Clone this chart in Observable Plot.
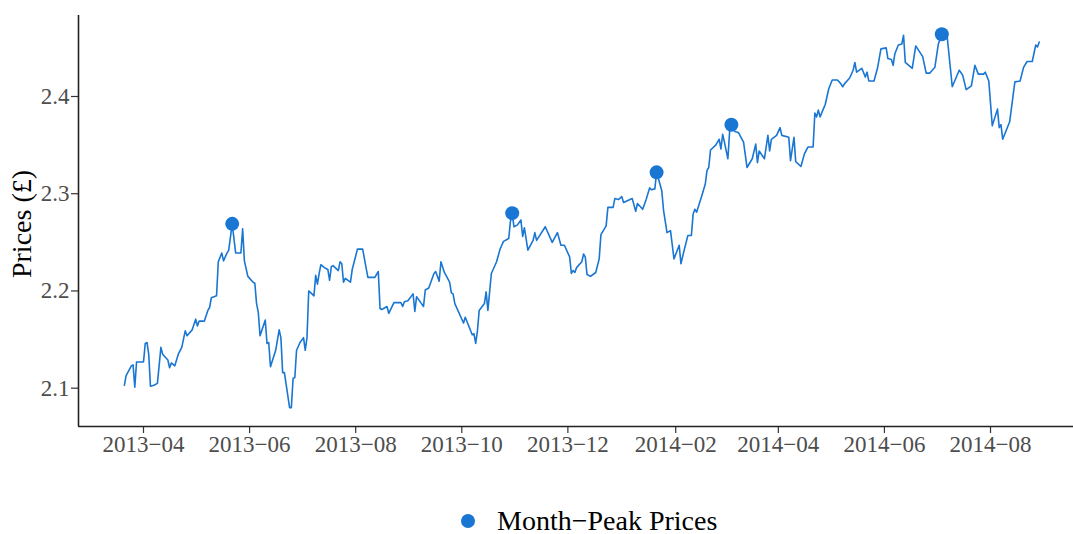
<!DOCTYPE html>
<html>
<head>
<meta charset="utf-8">
<script src="https://cdn.jsdelivr.net/npm/d3@7"></script>
<script src="https://cdn.jsdelivr.net/npm/@observablehq/plot@0.6"></script>
<style>
  html, body { margin: 0; padding: 0; background: #fff; overflow: hidden; }
  body { font-family: "Liberation Serif", "Times New Roman", serif; width: 1073px; }
  #chart svg { display: block; }
  #legend { position: relative; height: 64px; }
  #legend .dot { position: absolute; left: 461px; top: 44px; width: 14px; height: 14px; border-radius: 50%; background: #1976D2; }
  #legend .lab { position: absolute; left: 497px; top: 37px; font-size: 28px; line-height: 28px; color: #000; white-space: nowrap; }
</style>
</head>
<body>
<div id="chart"></div>
<div id="legend"><span class="dot"></span><span class="lab" id="legendLabel"></span></div>
<script>
const dates = [
"2013-03-21","2013-03-22","2013-03-25","2013-03-26","2013-03-27","2013-03-28","2013-04-01","2013-04-02","2013-04-03","2013-04-04",
"2013-04-05","2013-04-07","2013-04-09","2013-04-11","2013-04-12","2013-04-15","2013-04-16","2013-04-17","2013-04-19","2013-04-21",
"2013-04-23","2013-04-25","2013-04-26","2013-04-29","2013-05-01","2013-05-02","2013-05-03","2013-05-06","2013-05-08","2013-05-09",
"2013-05-10","2013-05-13","2013-05-14","2013-05-16","2013-05-17","2013-05-19","2013-05-20","2013-05-22","2013-05-24","2013-05-27",
"2013-05-28","2013-05-29","2013-05-31","2013-06-03","2013-06-04","2013-06-05","2013-06-06","2013-06-07","2013-06-10","2013-06-11",
"2013-06-12","2013-06-13","2013-06-16","2013-06-18","2013-06-19","2013-06-20","2013-06-21","2013-06-24","2013-06-25","2013-06-26",
"2013-06-27","2013-06-28","2013-06-30","2013-07-02","2013-07-03","2013-07-04","2013-07-05","2013-07-08","2013-07-09","2013-07-10",
"2013-07-11","2013-07-12","2013-07-14","2013-07-16","2013-07-17","2013-07-18","2013-07-19","2013-07-22","2013-07-23","2013-07-24",
"2013-07-25","2013-07-26","2013-07-29","2013-07-30","2013-07-31","2013-08-02","2013-08-05","2013-08-08","2013-08-12","2013-08-14",
"2013-08-15","2013-08-16","2013-08-19","2013-08-20","2013-08-23","2013-08-27","2013-08-28","2013-08-29","2013-08-31","2013-09-03",
"2013-09-04","2013-09-05","2013-09-07","2013-09-09","2013-09-10","2013-09-12","2013-09-15","2013-09-16","2013-09-18","2013-09-19",
"2013-09-21","2013-09-24","2013-09-25","2013-09-26","2013-09-27","2013-10-02","2013-10-03","2013-10-07","2013-10-08","2013-10-09",
"2013-10-10","2013-10-11","2013-10-14","2013-10-15","2013-10-16","2013-10-18","2013-10-21","2013-10-23","2013-10-24","2013-10-25",
"2013-10-28","2013-10-29","2013-10-30","2013-10-31","2013-11-02","2013-11-04","2013-11-05","2013-11-06","2013-11-08","2013-11-11",
"2013-11-12","2013-11-13","2013-11-18","2013-11-22","2013-11-25","2013-11-27","2013-11-29","2013-12-02","2013-12-03","2013-12-04",
"2013-12-05","2013-12-06","2013-12-09","2013-12-10","2013-12-11","2013-12-12","2013-12-14","2013-12-17","2013-12-19","2013-12-20",
"2013-12-23","2013-12-24","2013-12-27","2013-12-28","2013-12-30","2014-01-01","2014-01-02","2014-01-07","2014-01-09","2014-01-10",
"2014-01-13","2014-01-15","2014-01-17","2014-01-18","2014-01-20","2014-01-21","2014-01-24","2014-01-25","2014-01-27","2014-01-29",
"2014-01-31","2014-02-03","2014-02-04","2014-02-06","2014-02-08","2014-02-10","2014-02-11","2014-02-12","2014-02-13","2014-02-16",
"2014-02-18","2014-02-19","2014-02-20","2014-02-21","2014-02-24","2014-02-26","2014-02-27","2014-02-28","2014-03-01","2014-03-03",
"2014-03-04","2014-03-05","2014-03-07","2014-03-09","2014-03-12","2014-03-14","2014-03-17","2014-03-19","2014-03-20","2014-03-21",
"2014-03-24","2014-03-26","2014-03-27","2014-03-28","2014-03-31","2014-04-02","2014-04-03","2014-04-07","2014-04-08","2014-04-10",
"2014-04-11","2014-04-14","2014-04-16","2014-04-18","2014-04-21","2014-04-22","2014-04-23","2014-04-24","2014-04-25","2014-04-28",
"2014-04-30","2014-05-02","2014-05-05","2014-05-07","2014-05-08","2014-05-09","2014-05-12","2014-05-14","2014-05-15","2014-05-16",
"2014-05-19","2014-05-21","2014-05-22","2014-05-23","2014-05-26","2014-05-28","2014-05-30","2014-06-02","2014-06-03","2014-06-05",
"2014-06-06","2014-06-07","2014-06-09","2014-06-11","2014-06-12","2014-06-13","2014-06-17","2014-06-19","2014-06-23","2014-06-25",
"2014-06-27","2014-06-30","2014-07-02","2014-07-04","2014-07-07","2014-07-10","2014-07-14","2014-07-16","2014-07-18","2014-07-21",
"2014-07-23","2014-07-25","2014-07-28","2014-07-29","2014-07-31","2014-08-02","2014-08-05","2014-08-06","2014-08-07","2014-08-08",
"2014-08-12","2014-08-15","2014-08-18","2014-08-20","2014-08-22","2014-08-25","2014-08-27","2014-08-28","2014-08-29"
];
const prices = [
2.103,2.113,2.123,2.124,2.101,2.127,2.127,2.146,2.147,2.135,
2.102,2.103,2.105,2.142,2.135,2.129,2.121,2.126,2.123,2.135,
2.142,2.159,2.154,2.160,2.171,2.164,2.169,2.169,2.180,2.183,
2.193,2.195,2.230,2.239,2.231,2.239,2.242,2.269,2.239,2.239,
2.264,2.231,2.215,2.209,2.208,2.187,2.178,2.154,2.170,2.146,
2.147,2.122,2.139,2.160,2.152,2.116,2.116,2.080,2.080,2.110,
2.111,2.139,2.147,2.152,2.139,2.152,2.200,2.195,2.216,2.207,
2.218,2.227,2.224,2.222,2.211,2.225,2.226,2.221,2.230,2.228,
2.209,2.213,2.209,2.222,2.229,2.243,2.243,2.214,2.214,2.220,
2.182,2.181,2.184,2.177,2.188,2.188,2.184,2.189,2.190,2.197,
2.179,2.194,2.189,2.184,2.201,2.203,2.218,2.220,2.210,2.230,
2.219,2.209,2.198,2.197,2.187,2.167,2.173,2.155,2.156,2.146,
2.159,2.180,2.187,2.199,2.180,2.218,2.230,2.243,2.247,2.251,
2.254,2.272,2.280,2.266,2.268,2.273,2.256,2.265,2.242,2.252,
2.260,2.252,2.266,2.250,2.260,2.247,2.247,2.235,2.218,2.221,
2.219,2.224,2.230,2.238,2.235,2.217,2.215,2.219,2.233,2.258,
2.267,2.286,2.286,2.295,2.294,2.297,2.291,2.295,2.282,2.290,
2.284,2.294,2.306,2.304,2.305,2.322,2.303,2.283,2.260,2.262,
2.233,2.247,2.228,2.243,2.257,2.257,2.279,2.284,2.281,2.298,
2.310,2.324,2.327,2.345,2.350,2.356,2.346,2.361,2.353,2.336,
2.364,2.371,2.364,2.363,2.353,2.327,2.336,2.351,2.332,2.344,
2.336,2.360,2.344,2.356,2.360,2.368,2.360,2.358,2.334,2.358,
2.333,2.328,2.341,2.348,2.348,2.383,2.379,2.386,2.379,2.392,
2.408,2.417,2.417,2.413,2.410,2.413,2.419,2.427,2.435,2.425,
2.429,2.420,2.425,2.416,2.416,2.429,2.449,2.450,2.439,2.438,
2.432,2.444,2.453,2.454,2.463,2.435,2.429,2.452,2.441,2.424,
2.424,2.430,2.454,2.464,2.463,2.410,2.427,2.422,2.407,2.411,
2.432,2.423,2.423,2.425,2.416,2.370,2.387,2.368,2.371,2.356,
2.374,2.415,2.416,2.430,2.436,2.436,2.453,2.451,2.456
];
const peakDates = ["2013-05-22","2013-10-30","2014-01-21","2014-03-05","2014-07-04"];
const peakPrices = [2.269,2.280,2.322,2.371,2.464];
const xTicks = ["2013-04-01","2013-06-01","2013-08-01","2013-10-01","2013-12-01","2014-02-01","2014-04-01","2014-06-01","2014-08-01"];
const yTicks = [2.1, 2.2, 2.3, 2.4];
const yTitle = "Prices (£)";
const legendLabel = "Month\u2212Peak Prices";

const color = "#1976D2";
const series = dates.map((d, i) => ({date: new Date(d), price: prices[i]}));
const peaks = peakDates.map((d, i) => ({date: new Date(d), price: peakPrices[i]}));
const xDomain = [new Date("2013-02-22T15:00Z"), new Date("2014-09-17T17:00Z")];
const yDomain = [2.0606, 2.4833];
const fmt = d3.utcFormat("%Y\u2212%m");

const chart = Plot.plot({
  width: 1073,
  height: 470,
  marginTop: 15,
  marginBottom: 44,
  marginLeft: 78,
  marginRight: 0,
  style: {fontFamily: "'Liberation Serif', serif", background: "#fff", overflow: "visible"},
  x: {type: "utc", domain: xDomain, label: null},
  y: {domain: yDomain, label: null},
  marks: [
    Plot.axisX({ticks: xTicks.map(d => new Date(d)), tickFormat: fmt, tickSize: 7, tickPadding: 2, fontSize: 23, fill: "#4d4d4d", stroke: "#333", strokeWidth: 1.2, label: null}),
    Plot.axisY({ticks: yTicks, tickFormat: d3.format(".1f"), tickSize: 7, tickPadding: 2, fontSize: 23, fill: "#4d4d4d", stroke: "#333", strokeWidth: 1.2, label: null}),
    Plot.ruleY([yDomain[0]], {stroke: "#222", strokeWidth: 1.6}),
    Plot.ruleX([xDomain[0]], {stroke: "#222", strokeWidth: 1.6}),
    Plot.line(series, {x: "date", y: "price", stroke: color, strokeWidth: 1.6}),
    Plot.dot(peaks, {x: "date", y: "price", r: 7, fill: color, stroke: "none"}),
    Plot.text([yTitle], {text: d => d, frameAnchor: "left", rotate: -90, dx: -56, dy: 3, fontSize: 28, fill: "#000", textAnchor: "middle", lineAnchor: "middle"})
  ]
});
document.getElementById("chart").appendChild(chart);
document.getElementById("legendLabel").textContent = legendLabel;
</script>
</body>
</html>
